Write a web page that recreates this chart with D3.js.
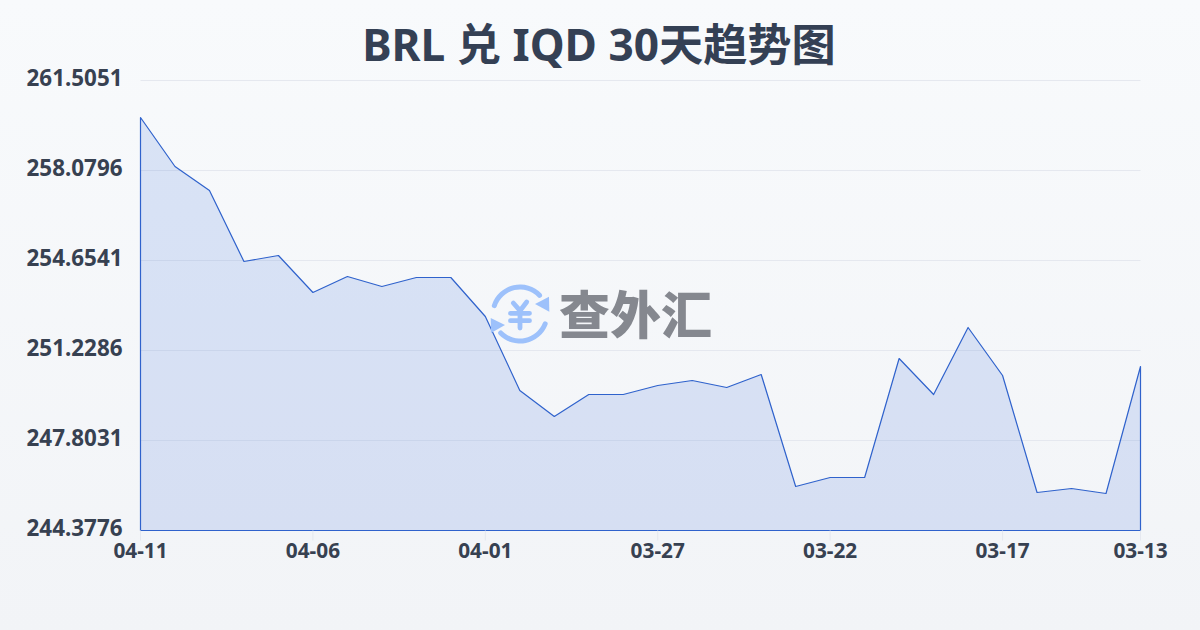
<!DOCTYPE html>
<html><head><meta charset="utf-8">
<script src="https://cdn.jsdelivr.net/npm/d3@7"></script>
<style>
html,body{margin:0;padding:0;width:1200px;height:630px;overflow:hidden}
svg{display:block}
text{font-family:"Noto Sans","Noto Sans CJK SC",sans-serif}
</style></head><body>
<svg id="c" width="1200" height="630"></svg>
<script>
const titleText = "BRL 兑 IQD 30天趋势图";
const watermarkText = "查外汇";
const dates = ["04-11","04-10","04-09","04-08","04-07","04-06","04-05","04-04","04-03","04-02",
  "04-01","03-31","03-30","03-29","03-28","03-27","03-26","03-25","03-24","03-23",
  "03-22","03-21","03-20","03-19","03-18","03-17","03-16","03-15","03-14","03-13"];
const rates = [260.097,258.232,257.318,254.616,254.845,253.436,254.045,253.665,254.007,254.007,
  252.523,249.706,248.717,249.554,249.554,249.896,250.087,249.820,250.315,246.052,
  246.395,246.395,250.924,249.554,252.104,250.277,245.824,245.976,245.786,250.620];
const yTicks = [244.3776,247.8031,251.2286,254.6541,258.0796,261.5051];
const xTicks = ["04-11","04-06","04-01","03-27","03-22","03-17","03-13"];

const L=140.5,R=1140.5,T=80.5,B=530.5;
const svg=d3.select("#c");
const defs=svg.append("defs");
const bg=defs.append("linearGradient").attr("id","bg").attr("x1",0).attr("y1",0).attr("x2",0).attr("y2",1);
bg.append("stop").attr("offset",0).attr("stop-color","#f8fafc");
bg.append("stop").attr("offset",1).attr("stop-color","#f2f4f7");
svg.append("rect").attr("width",1200).attr("height",630).attr("fill","url(#bg)");

const x=d3.scalePoint().domain(dates).range([L,R]);
const y=d3.scaleLinear().domain([yTicks[0],yTicks[yTicks.length-1]]).range([B,T]);

const grid=svg.append("g").attr("transform",`translate(${L},0)`)
  .call(d3.axisLeft(y).offset(0).tickValues(yTicks).tickSize(-(R-L)).tickFormat(""));
grid.select(".domain").remove();
grid.selectAll("line").attr("stroke","#e5e8ef").attr("stroke-width",1);

const area=d3.area().x((d,i)=>x(dates[i])).y0(B).y1(d=>y(d));
svg.append("path").attr("d",area(rates)+"Z")
  .attr("fill","#4677d9").attr("fill-opacity",0.17);
svg.append("path").attr("d",area(rates)+"Z")
  .attr("fill","none").attr("stroke","#2f62cc").attr("stroke-width",1.2).attr("stroke-linejoin","round");

const ya=svg.append("g").attr("transform",`translate(${L},0)`)
  .call(d3.axisLeft(y).offset(0).tickValues(yTicks).tickSize(0).tickPadding(18).tickFormat(d3.format(".4f")));
ya.select(".domain").remove();
ya.selectAll("text").attr("font-size",22.4).attr("font-weight",700).attr("fill","#374151")
  .attr("font-family",'"Noto Sans",sans-serif').attr("dy","0.25em");

const xa=svg.append("g").attr("transform",`translate(0,${B})`)
  .call(d3.axisBottom(x).offset(0).tickValues(xTicks).tickSize(10).tickPadding(3));
xa.select(".domain").remove();
xa.selectAll("line").attr("stroke","#e5e8ef");
xa.selectAll("text").attr("font-size",20.8).attr("font-weight",700).attr("fill","#374151")
  .attr("font-family",'"Noto Sans",sans-serif');

svg.append("text").attr("x",599).attr("y",61).attr("text-anchor","middle")
  .attr("font-size",44.2).attr("font-weight",700).attr("fill","#344054").text(titleText);

const wm=svg.append("g").attr("transform","translate(520,314)");
const blue="#9dc1fb";
const arc=d3.arc().innerRadius(24.5).outerRadius(29.5).cornerRadius(2.5);
wm.append("path").attr("fill",blue).attr("d",arc({startAngle:-1.35,endAngle:0.9}));
wm.append("path").attr("fill",blue).attr("d",arc({startAngle:1.85,endAngle:4.03}));
wm.append("path").attr("fill",blue).attr("d",d3.line()([[29,-17.3],[29.3,-2.3],[15,-10]])+"Z");
wm.append("path").attr("fill",blue).attr("d",d3.line()([[-29.3,4],[-15,11],[-29,19]])+"Z");
wm.append("path").attr("fill","none").attr("stroke",blue).attr("stroke-width",4.8).attr("stroke-linecap","round").attr("stroke-linejoin","round")
  .attr("d","M-6.7,-11L0,-3.3L6.7,-12M-9.5,-0.7H9.5M-9.5,6.7H9.5M0,-3.3V14");
svg.append("text").attr("x",559).attr("y",334).attr("font-size",51).attr("font-weight",900)
  .attr("font-family",'"Noto Sans CJK SC",sans-serif').attr("fill","#85888f").text(watermarkText);
</script>
</body></html>
